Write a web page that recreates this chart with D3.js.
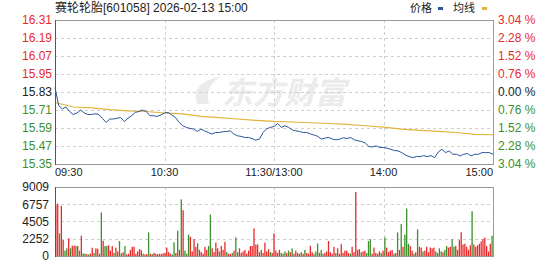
<!DOCTYPE html>
<html>
<head>
<meta charset="utf-8">
<script src="https://cdn.jsdelivr.net/npm/d3@7"></script>
<style>
body { margin: 0; background: #fff; }
svg { display: block; font-family: "Liberation Sans", Arial, "Noto Sans CJK SC", sans-serif; }
</style>
</head>
<body>
<svg></svg>
<script>
var title = "赛轮轮胎[601058] 2026-02-13 15:00";
var preClose = 15.83;
var priceTicks = [16.31, 16.19, 16.07, 15.95, 15.83, 15.71, 15.59, 15.47, 15.35];
var pctTicks = ["3.04", "2.28", "1.52", "0.76", "0.00", "0.76", "1.52", "2.28", "3.04"];
var volTicks = [0, 2252, 4505, 6757, 9009];
var timeLabels = ["09:30", "10:30", "11:30/13:00", "14:00", "15:00"];
var timeMinutes = [0, 60, 120, 180, 240];

// price, one value every 2 minutes (09:30 .. 15:00)
var prices = [
  15.86, 15.74, 15.717, 15.73, 15.70, 15.68, 15.69, 15.71, 15.69, 15.68,
  15.68, 15.685, 15.68, 15.654, 15.627, 15.65, 15.65, 15.655, 15.66, 15.632,
  15.655, 15.672, 15.694, 15.70, 15.71, 15.70, 15.672, 15.672, 15.667, 15.677,
  15.69, 15.694, 15.677, 15.66, 15.627, 15.605, 15.594, 15.587, 15.583, 15.567,
  15.583, 15.571, 15.56, 15.55, 15.56, 15.56, 15.565, 15.567, 15.571, 15.55,
  15.538, 15.534, 15.527, 15.527, 15.52, 15.509, 15.516, 15.56, 15.585, 15.594,
  15.60, 15.62, 15.594, 15.605, 15.594, 15.577, 15.571, 15.567, 15.56, 15.56,
  15.55, 15.543, 15.534, 15.516, 15.523, 15.527, 15.516, 15.511, 15.516, 15.525,
  15.52, 15.527, 15.511, 15.505, 15.50, 15.49, 15.466, 15.464, 15.471, 15.46,
  15.46, 15.455, 15.448, 15.44, 15.437, 15.426, 15.41, 15.40, 15.392, 15.40,
  15.399, 15.406, 15.399, 15.406, 15.392, 15.43, 15.448, 15.426, 15.437, 15.415,
  15.415, 15.404, 15.415, 15.42, 15.404, 15.415, 15.415, 15.426, 15.426, 15.426,
  15.415
];

// average price, one value every 10 minutes
var avgPrices = [
  15.76, 15.73, 15.724, 15.712, 15.704, 15.70, 15.69, 15.684, 15.668, 15.659,
  15.65, 15.641, 15.634, 15.63, 15.625, 15.62, 15.614, 15.605, 15.596, 15.583,
  15.574, 15.567, 15.56, 15.547, 15.545
];

// volume per minute
var volumes = [
  6650, 6850, 2950, 6550, 2080, 690, 1000, 2300, 1000, 1340,
  1340, 1340, 1300, 700, 2640, 350, 300, 250, 200, 300,
  1080, 400, 1000, 950, 300, 5680, 2000, 1300, 1300, 1400,
  700, 1300, 400, 1080, 600, 1950, 350, 500, 1300, 200,
  300, 800, 1200, 1200, 300, 600, 900, 750, 300, 200,
  250, 3080, 300, 250, 400, 300, 250, 300, 250, 350,
  400, 1100, 500, 300, 200, 1780, 400, 3300, 800, 7400,
  5980, 700, 300, 2800, 2500, 600, 2200, 1200, 1650, 800,
  500, 300, 1200, 800, 1300, 5420, 1000, 500, 1750, 1000,
  600, 1300, 800, 1850, 500, 300, 250, 400, 700, 2430,
  500, 1000, 400, 600, 800, 300, 700, 1300, 1300, 3600,
  1500, 1500, 500, 800, 400, 1750, 600, 900, 500, 400,
  2950, 700, 400, 800, 400, 300, 600, 400, 700, 500,
  1000, 300, 700, 400, 300, 500, 300, 800, 400, 300,
  1340, 500, 300, 600, 1630, 400, 800, 300, 400, 600,
  1950, 500, 300, 1200, 400, 1000, 300, 1550, 400, 700,
  700, 400, 300, 1200, 500, 8360, 800, 900, 500, 600,
  700, 400, 1950, 2200, 300, 1100, 400, 300, 600, 400,
  700, 2430, 1100, 500, 700, 800, 300, 400, 3080, 800,
  4160, 1200, 2800, 6200, 1600, 1300, 700, 300, 500, 3480,
  1200, 1100, 600, 700, 1200, 500, 1100, 1000, 1100, 600,
  400, 1000, 600, 500, 800, 1300, 1100, 1200, 2200, 1200,
  1300, 800, 2080, 3100, 1500, 1600, 1200, 800, 1400, 5850,
  1500, 1200, 1400, 1600, 1900, 2200, 2400, 1300, 600, 1600,
  2640
];
// R = up minute, G = down minute
var volDir = (
  "RRGRRGGRGR" + "RGRGRGGRGR" + "RGRRGGRGGR" + "RRGRRGGRGR" + "RRRRRRRRGR" +
  "RGRGRRRGRR" + "RRRRGGRGRG" + "RGGGRRRRGR" + "RRRRGGRRRR" + "GRRRGRRGRG" +
  "GRRRRRRRRR" + "RRRGRRRRGR" + "RRRRGGGRGR" + "GRRGRGRGRR" + "RRGGGRGGRR" +
  "RRRRGRRRRR" + "RRGRRRRRGR" + "RGGGRRRGRG" + "RGRRRRGRGR" + "GRGGGRRGRG" +
  "RRGRRRRRRG" + "GGGRGGRRGG" + "RRRRRRRRRG" + "RRRRRRRRRR" + "G"
).split("");

var svg = d3.select("svg"),
    width = 549,
    height = 262;

svg.attr("width", width).attr("height", height);

var left = 55, right = 493,
    top1 = 20, bottom1 = 164,
    top2 = 187, bottom2 = 256;

var red = "#ea2a2a", green = "#3c8f2c";
var gridColor = "#cfcfcf", frameColor = "#9a9a9a";

var x = d3.scaleLinear().domain([0, 240]).range([left, right]);
var y = d3.scaleLinear().domain([15.35, 16.31]).range([bottom1, top1]);
var yv = d3.scaleLinear().domain([0, 9009]).range([bottom2, top2]);
var xb = d3.scaleBand().domain(d3.range(volumes.length)).range([left, right]);

// watermark
var wm = svg.append("g").attr("fill", "#ebebeb");
wm.append("path").attr("d", "M197,104 Q190,82 222,76 Q204,86 209,104 Z");
wm.append("text")
    .attr("x", 222).attr("y", 104)
    .attr("font-family", "Noto Sans CJK SC")
    .attr("font-size", 31)
    .attr("font-weight", "bold")
    .attr("font-style", "italic")
    .text("东方财富");

// grid
var grid = svg.append("g")
    .attr("stroke", gridColor)
    .attr("stroke-dasharray", "3,3")
    .attr("shape-rendering", "crispEdges");

grid.selectAll(".hp")
    .data(priceTicks.slice(1, -1))
    .join("line")
    .attr("x1", left).attr("x2", right)
    .attr("y1", d => Math.round(y(d)) + 0.5).attr("y2", d => Math.round(y(d)) + 0.5);

grid.selectAll(".hv")
    .data(volTicks.slice(1, -1))
    .join("line")
    .attr("class", "hv")
    .attr("x1", left).attr("x2", right)
    .attr("y1", d => Math.round(yv(d)) + 0.5).attr("y2", d => Math.round(yv(d)) + 0.5);

[60, 120, 180].forEach(function(m) {
    var xx = Math.round(x(m)) + 0.5;
    grid.append("line").attr("x1", xx).attr("x2", xx).attr("y1", top1).attr("y2", bottom1);
    grid.append("line").attr("x1", xx).attr("x2", xx).attr("y1", top2).attr("y2", bottom2);
});

// volume bars
svg.append("g")
    .selectAll("rect")
    .data(volumes)
    .join("rect")
    .attr("x", (d, i) => xb(i) + (xb.bandwidth() - 1.3) / 2)
    .attr("width", 1.3)
    .attr("y", d => yv(d))
    .attr("height", d => bottom2 - yv(d))
    .attr("fill", (d, i) => volDir[i] === "R" ? red : green);

// lines
var avgLine = d3.line().x((d, i) => x(i * 10)).y(d => y(d));
var priceLine = d3.line().x((d, i) => x(i * 2)).y(d => y(d));

svg.append("path")
    .datum(avgPrices)
    .attr("d", avgLine)
    .attr("fill", "none")
    .attr("stroke", "#e2b43c")
    .attr("stroke-width", 1.2);

svg.append("path")
    .datum(prices)
    .attr("d", priceLine)
    .attr("fill", "none")
    .attr("stroke", "#2a5599")
    .attr("stroke-width", 1);

// frames
[[top1, bottom1], [top2, bottom2]].forEach(function(r) {
    svg.append("rect")
        .attr("x", left + 0.5).attr("y", r[0] + 0.5)
        .attr("width", right - left).attr("height", r[1] - r[0])
        .attr("fill", "none")
        .attr("stroke", frameColor)
        .attr("shape-rendering", "crispEdges");
    svg.append("line")
        .attr("x1", left + 0.5).attr("x2", left + 0.5)
        .attr("y1", r[0]).attr("y2", r[1] + 1)
        .attr("stroke", "#555")
        .attr("shape-rendering", "crispEdges");
});

function labelColor(i) {
    return i < 4 ? red : (i === 4 ? "#222" : green);
}

// left price axis
var axL = svg.append("g")
    .attr("transform", "translate(" + left + ",0)")
    .call(d3.axisLeft(y).tickValues(priceTicks).tickSize(0).tickPadding(3).tickFormat(d3.format(".2f")));
axL.select(".domain").remove();
axL.selectAll("text")
    .attr("font-size", 12)
    .attr("font-family", "Liberation Sans, Arial, sans-serif")
    .attr("fill", (d, i) => labelColor(i));

// right percent axis
var axR = svg.append("g")
    .attr("transform", "translate(" + right + ",0)")
    .call(d3.axisRight(y).tickValues(priceTicks).tickSize(0).tickPadding(5)
        .tickFormat((d, i) => pctTicks[i] + " %"));
axR.select(".domain").remove();
axR.selectAll("text")
    .attr("font-size", 12)
    .attr("font-family", "Liberation Sans, Arial, sans-serif")
    .attr("fill", (d, i) => labelColor(i));

// volume axis
var axV = svg.append("g")
    .attr("transform", "translate(" + (left - 3) + ",0)")
    .call(d3.axisLeft(yv).tickValues(volTicks).tickSize(0).tickPadding(3).tickFormat(d3.format("d")));
axV.select(".domain").remove();
axV.selectAll("text")
    .attr("font-size", 12)
    .attr("font-family", "Liberation Sans, Arial, sans-serif")
    .attr("fill", "#222");

// time labels
svg.append("g")
    .selectAll("text")
    .data(timeLabels)
    .join("text")
    .attr("x", (d, i) => x(timeMinutes[i]))
    .attr("y", 176)
    .attr("font-size", 11)
    .attr("fill", "#222")
    .attr("text-anchor", (d, i) => i === 0 ? "start" : (i === timeLabels.length - 1 ? "end" : "middle"))
    .text(d => d);

// title and legend
svg.append("text")
    .attr("x", left).attr("y", 12)
    .attr("font-size", 12)
    .attr("fill", "#222")
    .text(title);

var legend = svg.append("g").attr("font-size", 11).attr("fill", "#222")
    .attr("font-family", "Noto Sans CJK SC, sans-serif");
legend.append("text").attr("x", 410).attr("y", 12).text("价格");
legend.append("rect").attr("x", 438).attr("y", 7).attr("width", 5).attr("height", 3).attr("fill", "#2a5599");
legend.append("text").attr("x", 453).attr("y", 12).text("均线");
legend.append("rect").attr("x", 482).attr("y", 7).attr("width", 5).attr("height", 3).attr("fill", "#e2b43c");
</script>
</body>
</html>
